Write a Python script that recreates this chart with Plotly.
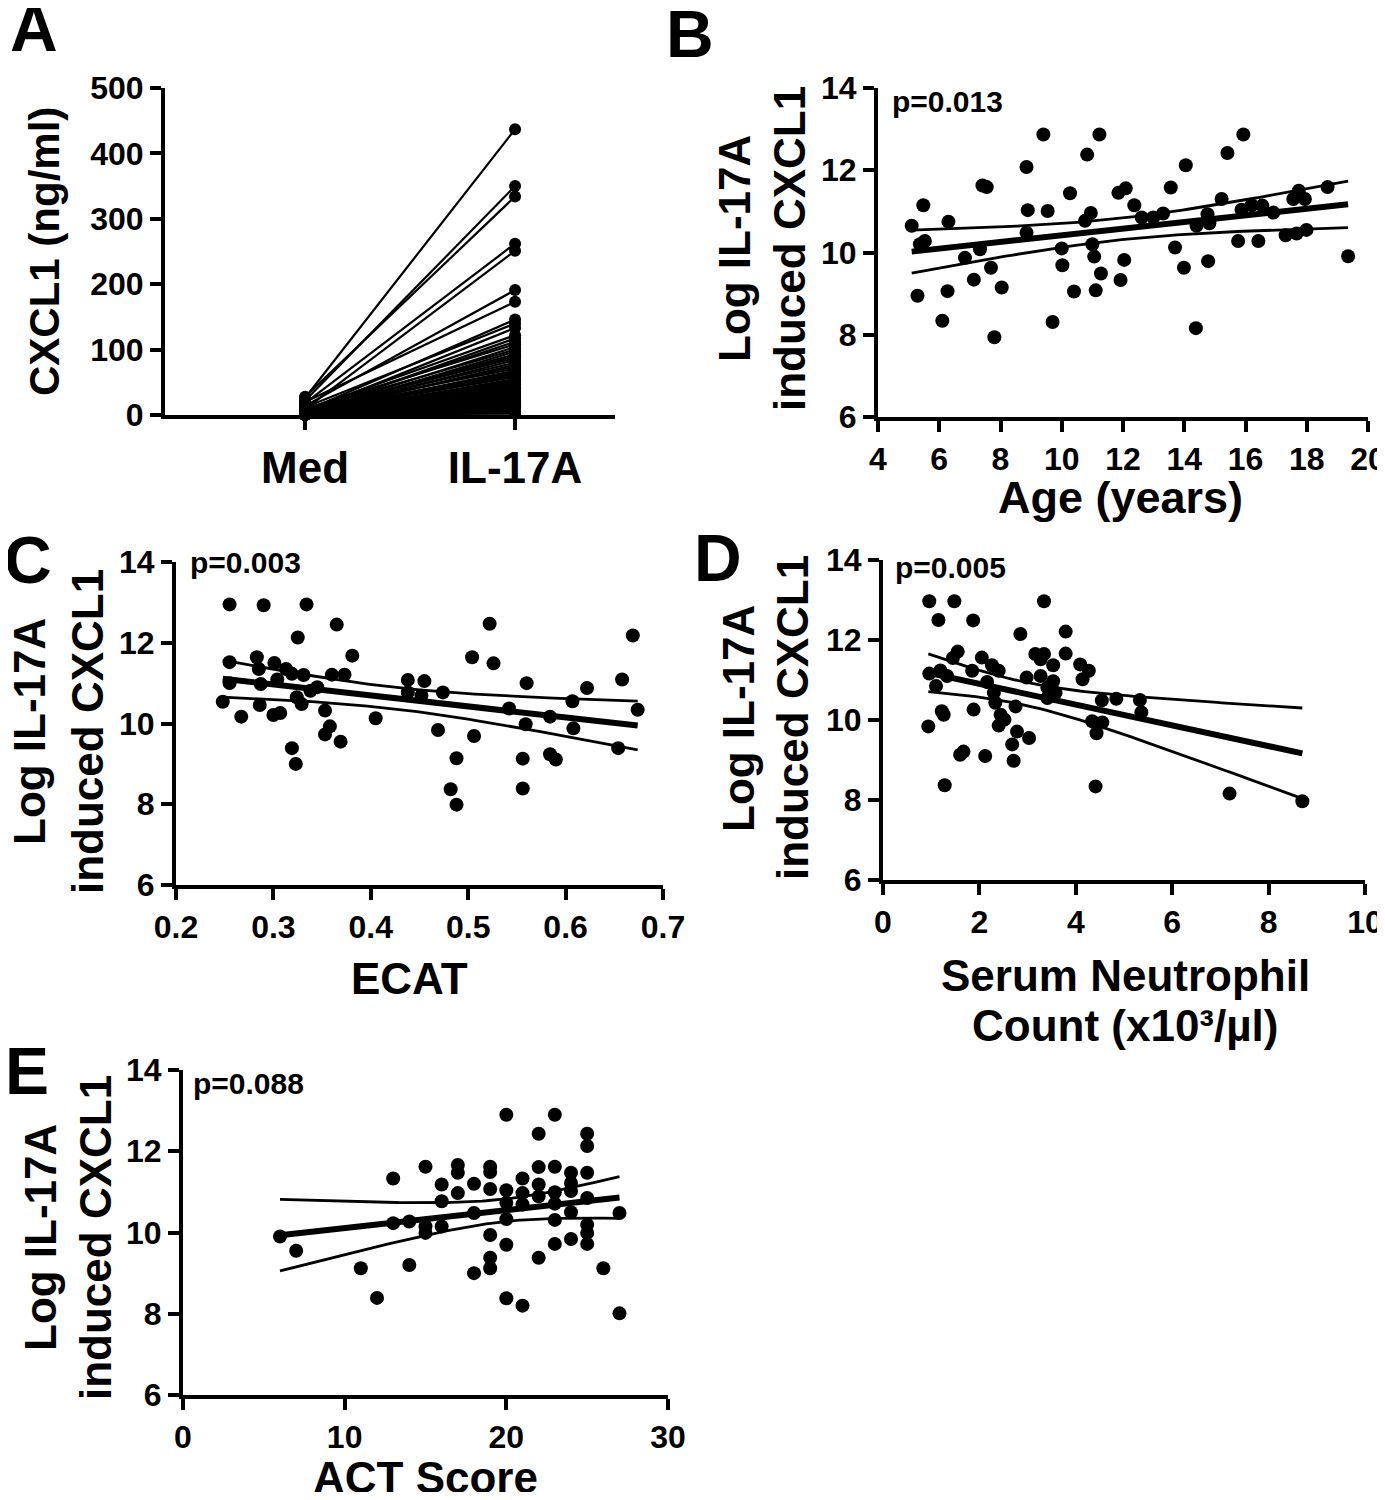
import numpy as np
import plotly.graph_objects as go

W, H = 1385, 1500
PAD = 8  # default page margin around the plot div
FW, FH = W - 2 * PAD, H - 2 * PAD
FONT = "Liberation Sans"

# Panel A: CXCL1 (ng/ml), medium vs IL-17A stimulated (paired)
med_cxcl1 = [26, 22, 28, 18, 9, 14, 20, 6, 12, 4, 8, 3, 5, 10, 2, 7, 1, 4, 3, 6,
             2, 5, 1, 3, 8, 2, 4, 1, 2, 3, 0, 1, 2, 5, 1, 3, 0, 2, 1, 4,
             0, 1, 2, 1, 3, 0, 1, 2, 0, 1, 1, 0, 2, 1, 0, 1, 0, 1, 0, 2,
             0, 1, 0, 0, 1, 0, 0, 1]
il17a_cxcl1 = [437, 350, 334, 262, 251, 191, 173, 146, 140, 133, 122, 117, 112, 108, 104,
               100, 97, 93, 90, 87, 84, 80, 77, 74, 71, 68, 65, 63, 60, 58,
               55, 53, 51, 49, 47, 45, 43, 41, 39, 37, 36, 34, 32, 31, 29,
               28, 26, 25, 23, 22, 20, 19, 18, 16, 15, 14, 13, 12, 11, 10,
               9, 8, 7, 6, 5, 4, 3, 2]
a_labels = ["Med", "IL-17A"]

# Panel B: age vs log IL-17A induced CXCL1
age = [5.10, 5.48, 5.53, 5.37, 5.29, 6.30, 6.27, 6.10, 6.84, 7.13, 7.33, 7.41, 7.55, 7.69,
       8.04, 7.80, 8.85, 8.89, 8.85, 9.40, 9.54, 9.70, 10.00, 10.02, 10.27, 10.40, 10.83,
       10.95, 10.76, 11.00, 11.06, 11.28, 11.11, 11.23, 11.85, 12.09, 12.37, 12.04, 11.92,
       12.61, 12.99, 13.31, 13.56, 13.70, 13.99, 14.05, 14.38, 14.40, 14.76, 14.82, 14.78,
       15.22, 15.41, 15.76, 15.93, 15.87, 16.20, 16.42, 16.55, 16.91, 17.31, 17.67, 17.99,
       17.74, 17.56, 17.94, 18.68, 19.35]
log_b = [10.65, 11.15, 10.28, 10.20, 8.95, 10.75, 9.06, 8.34, 9.87, 9.34, 10.08, 11.63, 11.59,
         9.63, 9.15, 7.94, 12.08, 11.03, 10.48, 12.87, 11.01, 8.31, 10.10, 9.69, 11.44, 9.05,
         12.38, 10.96, 10.77, 10.20, 9.90, 9.49, 9.08, 12.87, 11.45, 11.56, 11.15, 9.82, 9.33,
         10.85, 10.85, 10.95, 11.58, 10.12, 9.63, 12.12, 8.16, 10.65, 10.93, 10.71, 9.79,
         11.30, 12.42, 10.28, 12.87, 11.04, 11.15, 10.28, 11.14, 10.97, 10.42, 10.46, 10.55,
         11.50, 11.30, 11.30, 11.59, 9.91]

# Panel C: ECAT vs log IL-17A induced CXCL1
ecat = [0.255, 0.290, 0.334, 0.365, 0.325, 0.381, 0.522, 0.504, 0.526, 0.669, 0.658, 0.674,
        0.255, 0.255, 0.248, 0.267, 0.283, 0.285, 0.287, 0.286, 0.301, 0.304, 0.313, 0.319,
        0.300, 0.307, 0.331, 0.345, 0.338, 0.324, 0.329, 0.353, 0.358, 0.353, 0.369, 0.319,
        0.323, 0.360, 0.373, 0.405, 0.438, 0.455, 0.438, 0.452, 0.474, 0.469, 0.506, 0.488,
        0.482, 0.488, 0.542, 0.559, 0.560, 0.556, 0.556, 0.584, 0.584, 0.590, 0.607, 0.608,
        0.622, 0.654]
log_c = [12.95, 12.93, 12.95, 12.45, 12.13, 11.68, 12.47, 11.64, 11.49, 12.18, 11.09, 10.34,
         11.52, 11.00, 10.54, 10.17, 11.64, 11.35, 10.98, 10.46, 11.50, 11.09, 11.35, 11.23,
         10.21, 10.26, 11.20, 10.90, 10.81, 10.65, 10.48, 10.32, 9.93, 9.73, 9.55, 9.39,
         9.00, 11.21, 11.21, 10.13, 11.08, 11.05, 10.77, 10.69, 10.77, 9.84, 9.69, 9.14,
         8.37, 7.99, 10.37, 9.98, 11.00, 9.13, 8.39, 10.17, 9.24, 9.11, 10.55, 9.88,
         10.88, 9.39]

# Panel D: serum neutrophil count (x10^3/ul) vs log IL-17A induced CXCL1
neut = [0.96, 1.48, 1.15, 1.87, 3.34, 2.85, 3.79, 3.79, 1.55, 1.45, 2.05, 2.26, 2.40, 1.19,
        0.96, 1.33, 1.85, 1.10, 2.16, 2.30, 2.33, 2.44, 2.40, 2.52, 2.75, 2.78, 3.03, 2.68,
        2.71, 0.94, 1.22, 1.26, 1.88, 1.60, 1.67, 2.12, 1.28, 2.98, 3.16, 3.34, 3.27, 3.53,
        3.27, 3.53, 3.41, 3.58, 3.41, 4.09, 4.27, 4.14, 4.54, 4.84, 5.33, 5.36, 4.34, 4.55,
        4.43, 4.41, 7.19, 8.70]
log_d = [12.97, 12.97, 12.50, 12.49, 12.97, 12.15, 12.21, 11.66, 11.71, 11.55, 11.56, 11.37,
         11.23, 11.24, 11.16, 11.10, 11.23, 10.85, 10.95, 10.68, 10.43, 10.13, 9.86, 10.01,
         10.34, 9.71, 9.55, 9.39, 8.98, 9.84, 10.22, 10.13, 10.26, 9.13, 9.21, 9.10, 8.37,
         11.06, 11.65, 11.65, 11.52, 11.37, 11.10, 10.97, 10.81, 10.68, 10.55, 11.39, 11.23,
         11.02, 10.49, 10.53, 10.50, 10.19, 9.97, 9.94, 9.67, 8.34, 8.16, 7.97]

# Panel E: ACT score vs log IL-17A induced CXCL1
act = [6, 7, 11, 12, 13, 13, 14, 14, 15, 15, 15, 16, 16, 16, 17, 17, 17, 18, 18, 18,
       19, 19, 19, 19, 19, 19, 20, 20, 20, 20, 20, 20, 21, 21, 21, 21, 22, 22, 22, 22,
       22, 23, 23, 23, 23, 23, 23, 24, 24, 24, 24, 24, 25, 25, 25, 25, 25, 25, 25, 26,
       27, 27]
log_e = [9.90, 9.55, 9.12, 8.39, 11.33, 10.23, 10.27, 9.20, 11.62, 10.15, 9.99, 11.18, 10.77,
         10.15, 11.66, 11.47, 10.97, 11.20, 10.48, 9.00, 11.62, 11.49, 11.07, 9.94, 9.38,
         9.12, 12.90, 11.04, 10.73, 10.33, 9.70, 8.38, 11.33, 10.97, 10.69, 8.20, 12.43,
         11.61, 11.18, 10.89, 9.38, 12.90, 11.62, 10.99, 10.71, 10.31, 9.72, 11.47, 11.22,
         11.02, 10.50, 9.84, 12.43, 12.13, 11.47, 10.85, 10.19, 9.99, 9.72, 9.12, 10.48, 8.01]

p_values = ["p=0.013", "p=0.003", "p=0.005", "p=0.088"]


def fx(p):
    return (p - PAD) / FW


def fy(p):
    return 1 - (p - PAD) / FH


def fit_ci(x, y, n=80):
    # least squares line with 95% confidence band
    x = np.asarray(x, float)
    y = np.asarray(y, float)
    slope, icpt = np.polyfit(x, y, 1)
    xs = np.linspace(x.min(), x.max(), n)
    yhat = icpt + slope * xs
    resid = y - (icpt + slope * x)
    s = np.sqrt(np.sum(resid ** 2) / (len(x) - 2))
    se = s * np.sqrt(1 / len(x) + (xs - x.mean()) ** 2 / np.sum((x - x.mean()) ** 2))
    t = 1.998
    return xs, yhat, yhat - t * se, yhat + t * se


def axis(dom, rng, tick_size=32, **kw):
    d = dict(domain=dom, range=rng, showline=True, linewidth=4, linecolor="black",
             ticks="outside", ticklen=11, tickwidth=4, tickcolor="black",
             showgrid=False, zeroline=False, fixedrange=True, automargin=False,
             ticklabeloverflow="allow",
             tickfont=dict(family=FONT, size=tick_size, color="black", weight="bold"))
    d.update(kw)
    return d


fig = go.Figure()

# Panel A paired lines
ax, ay = [], []
for m, s in zip(med_cxcl1, il17a_cxcl1):
    ax += [0, 1, None]
    ay += [m, s, None]
fig.add_trace(go.Scatter(x=ax, y=ay, mode="lines+markers", xaxis="x", yaxis="y",
                         line=dict(color="black", width=2.2),
                         marker=dict(color="black", size=12), cliponaxis=False,
                         showlegend=False))

panels = [(age, log_b, "2"), (ecat, log_c, "3"), (neut, log_d, "4"), (act, log_e, "5")]
for xv, yv, k in panels:
    xs, yhat, lo, hi = fit_ci(xv, yv)
    fig.add_trace(go.Scatter(x=xv, y=yv, mode="markers", xaxis="x" + k, yaxis="y" + k,
                             marker=dict(color="black", size=14), cliponaxis=False,
                             showlegend=False))
    for yy, w in [(lo, 2.8), (hi, 2.8), (yhat, 6)]:
        fig.add_trace(go.Scatter(x=xs, y=yy, mode="lines", xaxis="x" + k, yaxis="y" + k,
                                 line=dict(color="black", width=w), showlegend=False))

ytick14 = dict(tickmode="array", tickvals=[6, 8, 10, 12, 14])

fig.update_layout(
    width=FW, height=FH,
    margin=dict(l=0, r=0, t=0, b=0, autoexpand=False),
    paper_bgcolor="white", plot_bgcolor="white",
    xaxis=axis([fx(165), fx(615)], [-0.667, 1.476], tick_size=44,
               tickmode="array", tickvals=[0, 1], ticktext=a_labels, anchor="y"),
    yaxis=axis([fy(415), fy(88)], [0, 500], tickmode="array",
               tickvals=[0, 100, 200, 300, 400, 500], anchor="x"),
    xaxis2=axis([fx(878), fx(1368)], [4, 20], tickmode="array",
                tickvals=list(range(4, 21, 2)), anchor="y2"),
    yaxis2=axis([fy(417), fy(88)], [6, 14], anchor="x2", **ytick14),
    xaxis3=axis([fx(176), fx(663)], [0.2, 0.7], tickmode="array",
                tickvals=[0.2, 0.3, 0.4, 0.5, 0.6, 0.7], anchor="y3"),
    yaxis3=axis([fy(885), fy(562)], [6, 14], anchor="x3", **ytick14),
    xaxis4=axis([fx(883), fx(1365)], [0, 10], tickmode="array",
                tickvals=[0, 2, 4, 6, 8, 10], anchor="y4"),
    yaxis4=axis([fy(880), fy(560)], [6, 14], anchor="x4", **ytick14),
    xaxis5=axis([fx(183), fx(668)], [0, 30], tickmode="array",
                tickvals=[0, 10, 20, 30], anchor="y5"),
    yaxis5=axis([fy(1395), fy(1070)], [6, 14], anchor="x5", **ytick14),
)


def ann(text, x, y, size=44, angle=0, xanchor="center", family=FONT):
    fig.add_annotation(text=text, x=fx(x), y=fy(y), xref="paper", yref="paper",
                       showarrow=False, textangle=angle, xanchor=xanchor, yanchor="middle",
                       font=dict(family=family, size=size, color="black", weight="bold"))


# panel letters
for letter, x, y in [("A", 34, 28), ("B", 690, 34), ("C", 28, 560), ("D", 718, 558), ("E", 27, 1071)]:
    ann(letter, x, y, size=66)

# axis titles
ann("CXCL1 (ng/ml)", 45, 252, size=42, angle=-90)
for (x1, x2, yc) in [(735, 790, 249), (30, 88, 732), (738, 792, 718), (40, 95, 1238)]:
    ann("Log IL-17A", x1, yc, angle=-90)
    ann("induced CXCL1", x2, yc, angle=-90)
ann("Age (years)", 1120, 497, size=45)
ann("ECAT", 410, 978)
ann("Serum Neutrophil", 1125, 975)
ann("Count (x10³/µl)", 1125, 1025)
ann("ACT Score", 425, 1477)

# p-values
for txt, x, y in zip(p_values, [890, 188, 893, 191], [101, 563, 567, 1083]):
    ann(txt, x, y, size=30, xanchor="left")

fig.write_html("out.html")
